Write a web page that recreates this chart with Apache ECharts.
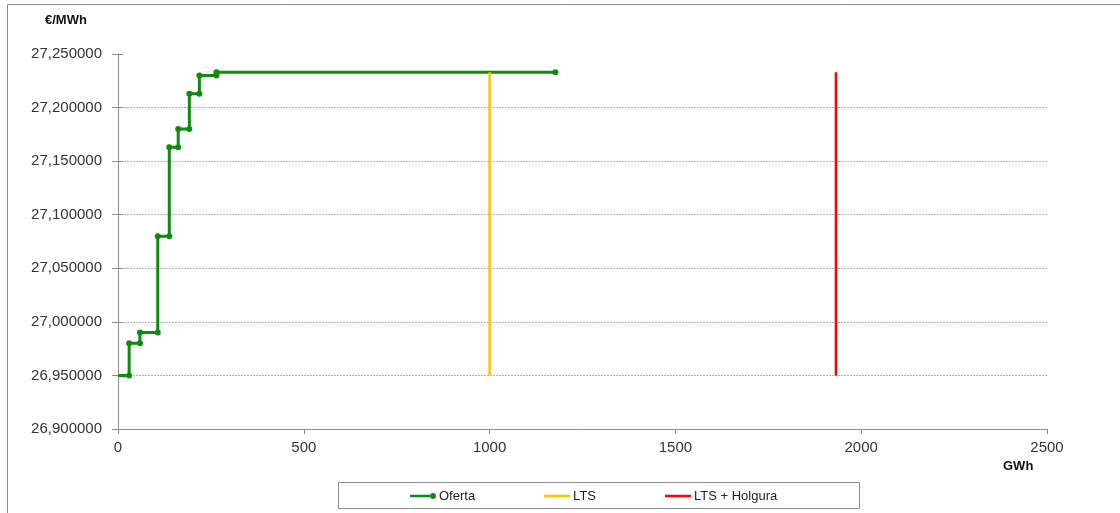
<!DOCTYPE html>
<html>
<head>
<meta charset="utf-8">
<script src="https://cdn.jsdelivr.net/npm/echarts@6/dist/echarts.min.js"></script>
<style>html,body{margin:0;padding:0;background:#fff}#c{width:1120px;height:513px}</style>
</head>
<body>
<div id="c"></div>
<script>
// Oferta step curve (GWh, €/MWh)
var ofertaX = [0, 30, 30, 59, 59, 107, 107, 138, 138, 162, 162, 192, 192, 219, 219, 265, 265, 1177];
var ofertaY = [26.950, 26.950, 26.980, 26.980, 26.990, 26.990, 27.080, 27.080, 27.163, 27.163, 27.180, 27.180, 27.213, 27.213, 27.230, 27.230, 27.233, 27.233];
var ltsX = [1000, 1000];
var ltsY = [26.950, 27.233];
var holguraX = [1932, 1932];
var holguraY = [26.950, 27.233];
var xTicks = [0, 500, 1000, 1500, 2000, 2500];
var seriesNames = ['Oferta', 'LTS', 'LTS + Holgura'];

function pairs(xs, ys) { return xs.map(function (x, i) { return [x, ys[i]]; }); }
var ofertaData = pairs(ofertaX, ofertaY).map(function (p, i) {
  return i === 0 ? { value: p, symbol: 'none' } : p;
});

var barIcon = 'path://M0,0h0.01v0.01h-0.01zM0,1.75h26v2.5h-26zM25.99,5.99h0.01v0.01h-0.01z';
var dotIcon = 'path://M0,0h0.01v0.01h-0.01zM0,1.75h20v2.5h-20zM20,3a3,3 0 1,1 6,0a3,3 0 1,1 -6,0z';

var chart = echarts.init(document.getElementById('c'));
var font = 'Liberation Sans, Arial, sans-serif';
var yBase = { type: 'value', min: 26.9, max: 27.25, interval: 0.05 };
chart.setOption({
  animation: false,
  textStyle: { fontFamily: font },
  grid: { left: 118, right: 73, top: 54, bottom: 84, containLabel: false },
  xAxis: {
    type: 'value', min: xTicks[0], max: xTicks[xTicks.length - 1], interval: 500,
    axisLine: { lineStyle: { color: '#8c8c8c', width: 1 } },
    axisTick: { show: true, inside: false, length: 5, lineStyle: { color: '#8c8c8c' } },
    axisLabel: { color: '#333', fontSize: 15, margin: 11, fontFamily: font, formatter: function (v) { return String(v); } },
    splitLine: { show: false }
  },
  yAxis: [
    Object.assign({}, yBase, {
      axisLine: { show: true, lineStyle: { color: '#8c8c8c', width: 1 } },
      axisTick: { show: true, inside: false, length: 6, lineStyle: { color: '#8c8c8c' } },
      axisLabel: {
        color: '#333', fontSize: 15, margin: 16, fontFamily: font,
        formatter: function (v) { return v.toFixed(6).replace('.', ','); }
      },
      splitLine: { show: true, showMinLine: false, showMaxLine: false, lineStyle: { color: '#b0b0b0', type: [2, 1], width: 1 } }
    }),
    Object.assign({}, yBase, {
      position: 'left', offset: -5,
      axisLine: { show: true, lineStyle: { color: 'rgba(0,0,0,0)', width: 1 } },
      axisTick: { show: true, inside: false, length: 5, lineStyle: { color: '#8c8c8c' } },
      axisLabel: { show: false },
      splitLine: { show: false }
    })
  ],
  legend: {
    left: 410, top: 489.5, padding: 0, itemGap: 69, itemWidth: 26, itemHeight: 6,
    textStyle: { color: '#222', fontSize: 13, fontFamily: font, padding: [0, 0, 0, -2] },
    data: [
      { name: seriesNames[0], icon: dotIcon },
      { name: seriesNames[1], icon: barIcon },
      { name: seriesNames[2], icon: barIcon }
    ]
  },
  graphic: [
    { type: 'polyline', silent: true, shape: { points: [[7.5, 520], [7.5, 4.5], [1130, 4.5]] }, style: { stroke: '#8c8c8c', fill: null, lineWidth: 1 } },
    { type: 'rect', silent: true, shape: { x: 338.5, y: 482.5, width: 521, height: 26 }, style: { stroke: '#8c8c8c', fill: null, lineWidth: 1 }, z: -1 },
    { type: 'text', left: 45, top: 14, style: { text: '€/MWh', font: 'bold 13px Liberation Sans, Arial, sans-serif', fill: '#111' } },
    { type: 'text', left: 1003, top: 460, style: { text: 'GWh', font: 'bold 13px Liberation Sans, Arial, sans-serif', fill: '#111' } }
  ],
  series: [
    {
      name: seriesNames[0], type: 'line', data: ofertaData,
      symbol: 'circle', symbolSize: 6, showSymbol: true,
      lineStyle: { color: '#118a11', width: 3 },
      itemStyle: { color: '#118a11' }, z: 3
    },
    {
      name: seriesNames[1], type: 'line', data: pairs(ltsX, ltsY), symbol: 'none',
      lineStyle: { color: '#ffc000', width: 2.5 }, itemStyle: { color: '#ffc000' }
    },
    {
      name: seriesNames[2], type: 'line', data: pairs(holguraX, holguraY), symbol: 'none',
      lineStyle: { color: '#ff0000', width: 2.5 }, itemStyle: { color: '#ff0000' }
    }
  ]
});
</script>
</body>
</html>
